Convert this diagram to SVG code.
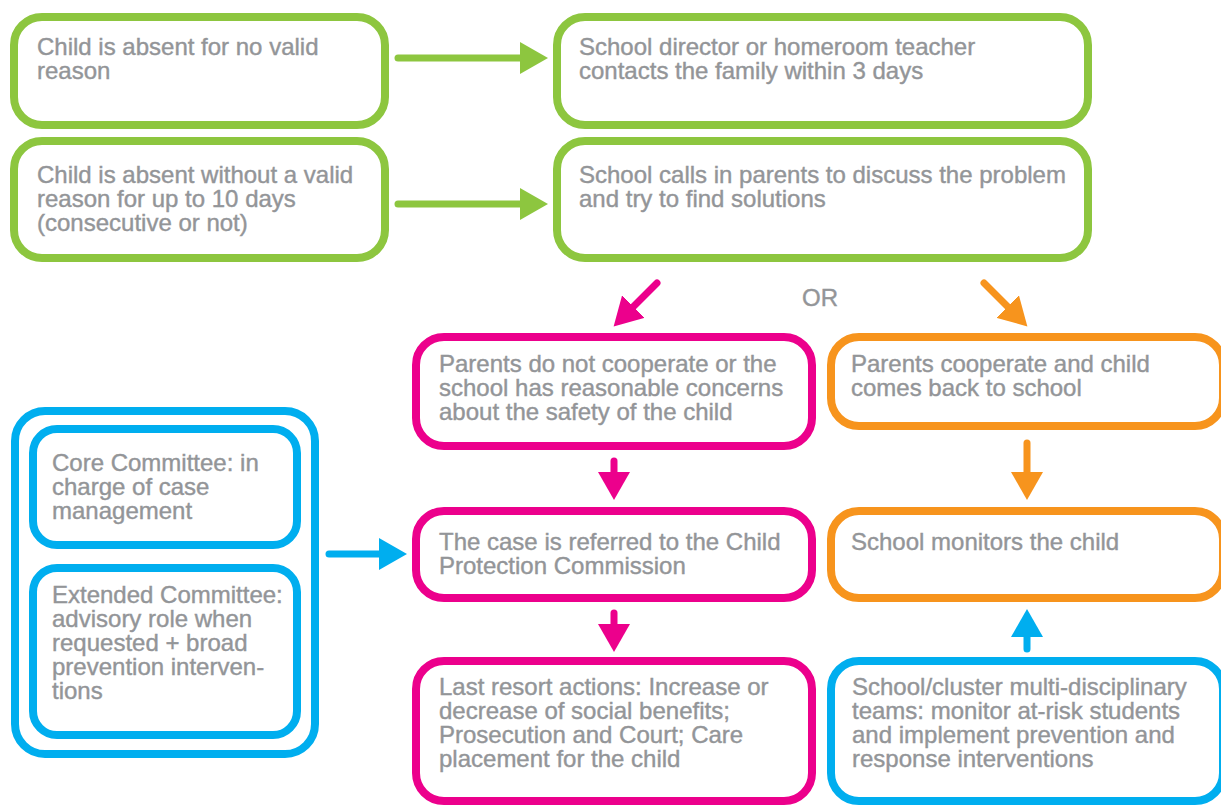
<svg xmlns="http://www.w3.org/2000/svg" width="1221" height="805" viewBox="0 0 1221 805">
<style>
  .box{fill:#ffffff;stroke-width:8}
  .g{stroke:#8dc63f}
  .p{stroke:#ec008c}
  .o{stroke:#f7941d}
  .b{stroke:#00aeef}
  .t{font-family:"Liberation Sans",Arial,sans-serif;font-size:24px;fill:#939598;stroke:#939598;stroke-width:0.4}
  .ln{fill:none;stroke-width:7;stroke-linecap:round}
</style>
<defs>
  <marker id="ag" markerUnits="userSpaceOnUse" markerWidth="30" markerHeight="32" refX="2" refY="16" orient="auto"><path d="M0,0 L28,16 L0,32 Z" fill="#8dc63f"/></marker>
  <marker id="ap" markerUnits="userSpaceOnUse" markerWidth="30" markerHeight="32" refX="2" refY="16" orient="auto"><path d="M0,0 L28,16 L0,32 Z" fill="#ec008c"/></marker>
  <marker id="ao" markerUnits="userSpaceOnUse" markerWidth="30" markerHeight="32" refX="2" refY="16" orient="auto"><path d="M0,0 L28,16 L0,32 Z" fill="#f7941d"/></marker>
  <marker id="ab" markerUnits="userSpaceOnUse" markerWidth="30" markerHeight="32" refX="2" refY="16" orient="auto"><path d="M0,0 L28,16 L0,32 Z" fill="#00aeef"/></marker>
</defs>
<rect width="1221" height="805" fill="#ffffff"/>

<g id="n1">
  <rect class="box g" x="14" y="17" width="371" height="108" rx="28"/>
  <text class="t" x="37" y="55">Child is absent for no valid</text>
  <text class="t" x="37" y="79">reason</text>
</g>
<g id="n2">
  <rect class="box g" x="557" y="17" width="531" height="108" rx="28"/>
  <text class="t" x="579" y="55">School director or homeroom teacher</text>
  <text class="t" x="579" y="79">contacts the family within 3 days</text>
</g>
<g id="n3">
  <rect class="box g" x="14" y="141" width="371" height="117" rx="28"/>
  <text class="t" x="37" y="183">Child is absent without a valid</text>
  <text class="t" x="37" y="207">reason for up to 10 days</text>
  <text class="t" x="37" y="231">(consecutive or not)</text>
</g>
<g id="n4">
  <rect class="box g" x="557" y="141" width="531" height="117" rx="28"/>
  <text class="t" x="579" y="183">School calls in parents to discuss the problem</text>
  <text class="t" x="579" y="207">and try to find solutions</text>
</g>
<g id="or">
  <text class="t" x="820" y="306" text-anchor="middle" font-size="22">OR</text>
</g>
<g id="nA">
  <rect class="box p" x="416" y="337" width="396" height="109" rx="28"/>
  <text class="t" x="439" y="372">Parents do not cooperate or the</text>
  <text class="t" x="439" y="396">school has reasonable concerns</text>
  <text class="t" x="439" y="420">about the safety of the child</text>
</g>
<g id="nB">
  <rect class="box o" x="831" y="337" width="392" height="89" rx="28"/>
  <text class="t" x="851" y="372">Parents cooperate and child</text>
  <text class="t" x="851" y="396">comes back to school</text>
</g>
<g id="nC">
  <rect class="box p" x="416" y="511" width="396" height="87" rx="28"/>
  <text class="t" x="439" y="550">The case is referred to the Child</text>
  <text class="t" x="439" y="574">Protection Commission</text>
</g>
<g id="nD">
  <rect class="box o" x="831" y="511" width="392" height="87" rx="28"/>
  <text class="t" x="851" y="550">School monitors the child</text>
</g>
<g id="nE">
  <rect class="box p" x="416" y="661" width="396" height="140" rx="28"/>
  <text class="t" x="439" y="695">Last resort actions: Increase or</text>
  <text class="t" x="439" y="719">decrease of social benefits;</text>
  <text class="t" x="439" y="743">Prosecution and Court; Care</text>
  <text class="t" x="439" y="767">placement for the child</text>
</g>
<g id="nF">
  <rect class="box b" x="831" y="661" width="392" height="140" rx="28"/>
  <text class="t" x="852" y="695">School/cluster multi-disciplinary</text>
  <text class="t" x="852" y="719">teams: monitor at-risk students</text>
  <text class="t" x="852" y="743">and implement prevention and</text>
  <text class="t" x="852" y="767">response interventions</text>
</g>
<g id="committee">
  <rect class="box b" x="15" y="411" width="300" height="343" rx="30"/>
  <g id="core">
    <rect class="box b" x="33" y="429" width="264" height="116" rx="24"/>
    <text class="t" x="52" y="471">Core Committee: in</text>
    <text class="t" x="52" y="495">charge of case</text>
    <text class="t" x="52" y="519">management</text>
  </g>
  <g id="extended">
    <rect class="box b" x="33" y="568" width="264" height="167" rx="24"/>
    <text class="t" x="52" y="603">Extended Committee:</text>
    <text class="t" x="52" y="627">advisory role when</text>
    <text class="t" x="52" y="651">requested + broad</text>
    <text class="t" x="52" y="675">prevention interven-</text>
    <text class="t" x="52" y="699">tions</text>
  </g>
</g>

<g id="connectors">
  <line class="ln" stroke="#8dc63f" x1="398" y1="58" x2="522" y2="58" marker-end="url(#ag)"/>
  <line class="ln" stroke="#8dc63f" x1="398" y1="204" x2="522" y2="204" marker-end="url(#ag)"/>
  <line class="ln" stroke="#ec008c" x1="657" y1="283" x2="632" y2="308" marker-end="url(#ap)"/>
  <line class="ln" stroke="#f7941d" x1="984" y1="283" x2="1009" y2="308" marker-end="url(#ao)"/>
  <line class="ln" stroke="#ec008c" x1="614" y1="461" x2="614" y2="474" marker-end="url(#ap)"/>
  <line class="ln" stroke="#f7941d" x1="1027" y1="443" x2="1027" y2="474" marker-end="url(#ao)"/>
  <line class="ln" stroke="#ec008c" x1="614" y1="613" x2="614" y2="626" marker-end="url(#ap)"/>
  <line class="ln" stroke="#00aeef" x1="1027" y1="649" x2="1027" y2="635" marker-end="url(#ab)"/>
  <line class="ln" stroke="#00aeef" x1="329" y1="554" x2="381" y2="554" marker-end="url(#ab)"/>
</g>
</svg>
